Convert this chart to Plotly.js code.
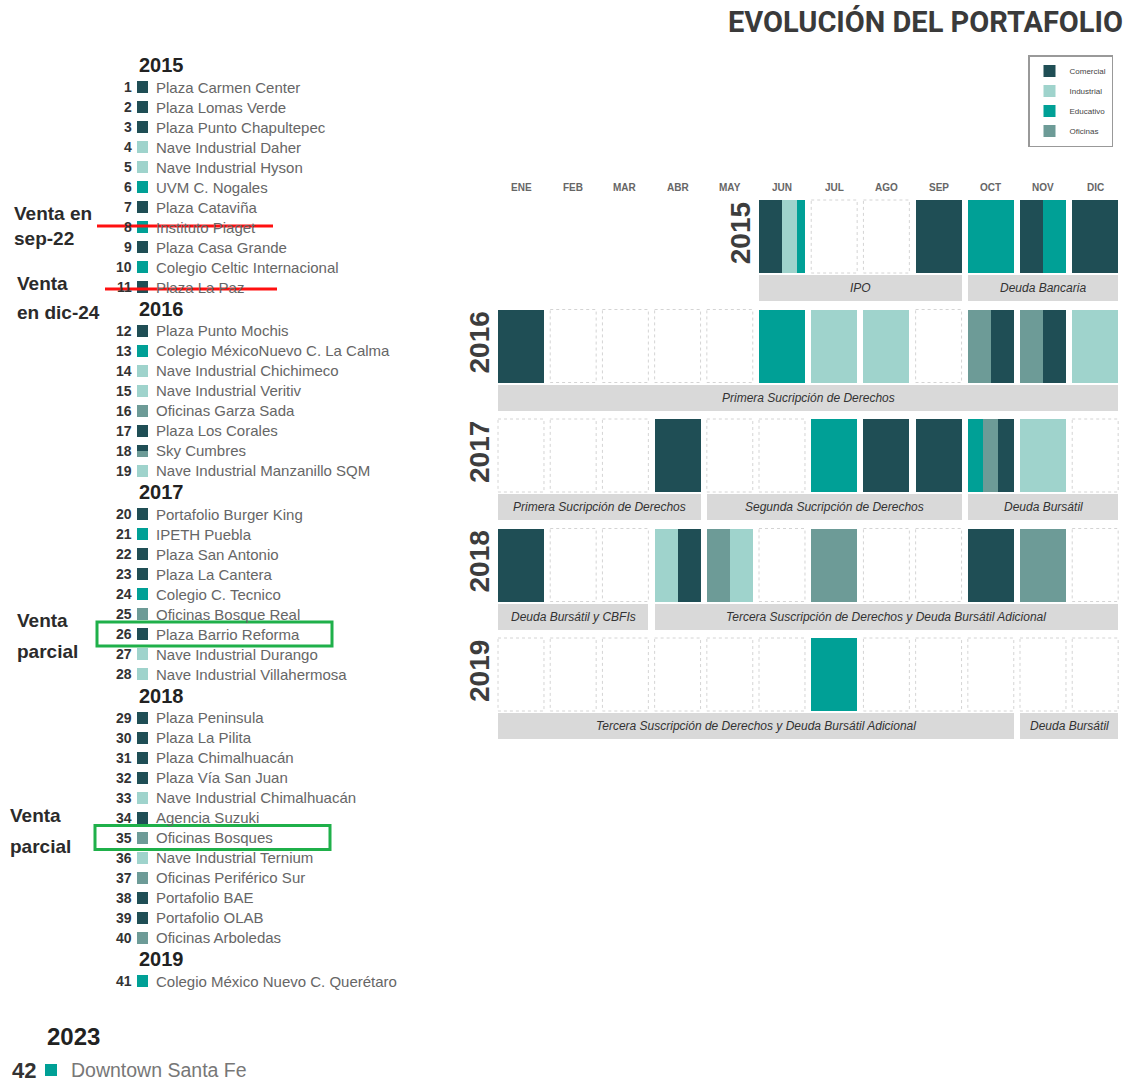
<!DOCTYPE html>
<html><head><meta charset="utf-8">
<script src="https://cdn.plot.ly/plotly-3.0.1.min.js"></script>
<style>html,body{margin:0;padding:0;background:#fff}</style>
</head><body><div id="chart" style="width:1129px;height:1082px"></div>
<script>
// ---------- DATA ----------
const months = ['ENE','FEB','MAR','ABR','MAY','JUN','JUL','AGO','SEP','OCT','NOV','DIC'];
const categories = ['Comercial','Industrial','Educativo','Oficinas'];
const catCodes = ['C','I','E','O'];
const catColors = ['#1f4e55','#9fd3cc','#00a096','#6d9b97'];

const gridYears = ['2015','2016','2017','2018','2019'];
// per month: null = no cell, '' = empty cell, letters = acquisitions by type
const cells2015 = [null,null,null,null,null,'CCCIIE','','','C','E','CE','C'];
const cells2016 = ['C','','','','','E','I','I','','OC','OC','I'];
const cells2017 = ['','','','C','','','E','C','C','EOC','I',''];
const cells2018 = ['C','','','IC','OI','','O','','','C','O',''];
const cells2019 = ['','','','','','','E','','','','',''];

const fundYear  = [0,0,1,2,2,2,3,3,4,4];
const fundStart = [5,9,0,0,4,9,0,3,0,10];
const fundEnd   = [8,11,11,3,8,11,2,11,9,11];
const fundText  = ['IPO','Deuda Bancaria','Primera Sucripción de Derechos',
  'Primera Sucripción de Derechos','Segunda Sucripción de Derechos','Deuda Bursátil',
  'Deuda Bursátil y CBFIs','Tercera Suscripción de Derechos y Deuda Bursátil Adicional',
  'Tercera Suscripción de Derechos y Deuda Bursátil Adicional','Deuda Bursátil'];

const assetNum = [1,2,3,4,5,6,7,8,9,10,11,12,13,14,15,16,17,18,19,20,21,22,23,24,25,26,27,28,29,30,31,32,33,34,35,36,37,38,39,40,41];
const assetYear = ['2015','2015','2015','2015','2015','2015','2015','2015','2015','2015','2015',
  '2016','2016','2016','2016','2016','2016','2016','2016',
  '2017','2017','2017','2017','2017','2017','2017','2017','2017',
  '2018','2018','2018','2018','2018','2018','2018','2018','2018','2018','2018','2018',
  '2019'];
const assetName = ['Plaza Carmen Center','Plaza Lomas Verde','Plaza Punto Chapultepec','Nave Industrial Daher',
  'Nave Industrial Hyson','UVM C. Nogales','Plaza Cataviña','Instituto Piaget','Plaza Casa Grande',
  'Colegio Celtic Internacional','Plaza La Paz',
  'Plaza Punto Mochis','Colegio MéxicoNuevo C. La Calma','Nave Industrial Chichimeco','Nave Industrial Veritiv',
  'Oficinas Garza Sada','Plaza Los Corales','Sky Cumbres','Nave Industrial Manzanillo SQM',
  'Portafolio Burger King','IPETH Puebla','Plaza San Antonio','Plaza La Cantera','Colegio C. Tecnico',
  'Oficinas Bosque Real','Plaza Barrio Reforma','Nave Industrial Durango','Nave Industrial Villahermosa',
  'Plaza Peninsula','Plaza La Pilita','Plaza Chimalhuacán','Plaza Vía San Juan','Nave Industrial Chimalhuacán',
  'Agencia Suzuki','Oficinas Bosques','Nave Industrial Ternium','Oficinas Periférico Sur','Portafolio BAE',
  'Portafolio OLAB','Oficinas Arboledas',
  'Colegio México Nuevo C. Querétaro'];
const assetType = ['C','C','C','I','I','E','C','E','C','E','C',
  'C','E','I','I','O','C','CO','I',
  'C','E','C','C','E','O','C','I','I',
  'C','C','C','C','I','C','O','I','O','C','C','O',
  'E'];
const soldAssets = [8, 11];
const soldNotes = [['Venta en','sep-22'],['Venta','en dic-24']];
const partialAssets = [26, 35];
const partialNotes = [['Venta','parcial'],['Venta','parcial']];

const extraYear = '2023';
const extraNum = 42;
const extraName = 'Downtown Santa Fe';
const extraType = 'E';

const titleText = 'EVOLUCIÓN DEL PORTAFOLIO';

// ---------- LAYOUT CONSTANTS ----------
const W = 1129, H = 1082;
const GRID_TOP = 200, ROW_PITCH = 109.5, CELL_H = 73, FUND_GAP = 2, FUND_H = 26, CELL_W = 0.88;
const M0 = 521, MP = 52.2; // pixel centre of ENE, month pitch
const xDom = [(M0 - 0.5*MP)/W, (M0 + 11.5*MP)/W];
const allCells = [cells2015, cells2016, cells2017, cells2018, cells2019];

const traces = [];
const annotations = [];
const shapes = [];

// grid cells per category
catCodes.forEach((code, k) => {
  const xs = [], ws = [], bs = [], ys = [];
  allCells.forEach((row, r) => {
    const top = GRID_TOP + r*ROW_PITCH;
    row.forEach((s, m) => {
      if (!s) return;
      const n = s.length;
      for (let j = 0; j < n; j++) {
        if (s[j] !== code) continue;
        xs.push(m - CELL_W/2 + (j + 0.5)*CELL_W/n);
        ws.push(CELL_W/n); bs.push(top); ys.push(CELL_H);
      }
    });
  });
  traces.push({type:'bar', x:xs, y:ys, base:bs, width:ws, name:categories[k],
    marker:{color:catColors[k], line:{width:0}}, xaxis:'x', yaxis:'y',
    hoverinfo:'skip', legendgroup:'g'+k, showlegend:true});
});

// empty cells (dotted outlines)
const ex = [], ey = [];
allCells.forEach((row, r) => {
  const top = GRID_TOP + r*ROW_PITCH;
  row.forEach((s, m) => {
    if (s !== '') return;
    const x0 = m - CELL_W/2, x1 = m + CELL_W/2, y0 = top, y1 = top + CELL_H;
    ex.push(x0, x1, x1, x0, x0, null);
    ey.push(y0, y0, y1, y1, y0, null);
  });
});
traces.push({type:'scatter', mode:'lines', x:ex, y:ey, xaxis:'x', yaxis:'y',
  line:{color:'#d4d4d4', width:1, dash:'dot'}, hoverinfo:'skip', showlegend:false});

// funding bars
const fx = [], fw = [], fb = [], fy = [];
fundText.forEach((t, i) => {
  const top = GRID_TOP + fundYear[i]*ROW_PITCH + CELL_H + FUND_GAP;
  const cx = (fundStart[i] + fundEnd[i]) / 2;
  fx.push(cx); fw.push(fundEnd[i] - fundStart[i] + CELL_W); fb.push(top); fy.push(FUND_H);
  annotations.push({xref:'x', yref:'y', x:cx, y:top + FUND_H/2, text:'<i>'+t+'</i>',
    showarrow:false, font:{family:'Liberation Sans, Arial', size:12, color:'#333'}});
});
traces.push({type:'bar', x:fx, y:fy, base:fb, width:fw, xaxis:'x', yaxis:'y',
  marker:{color:'#d9d9d9', line:{width:0}}, hoverinfo:'skip', showlegend:false});

// month headers
months.forEach((mn, m) => annotations.push({xref:'x', yref:'y', x:m, y:187, text:'<b>'+mn+'</b>',
  showarrow:false, font:{family:'Liberation Sans, Arial', size:10, color:'#666'}}));

// year labels (rotated): 2015 sits beside its first cell, others left of the grid
gridYears.forEach((yr, r) => {
  const top = GRID_TOP + r*ROW_PITCH;
  const lx = r === 0 ? M0 + 4.2*MP : 479;
  annotations.push({xref:'x2', yref:'y', x:lx, y: top + 33, text:'<b>'+yr+'</b>',
    textangle:-90, showarrow:false, font:{family:'Liberation Sans, Arial', size:28, color:'#3d3d3d'}});
});

// ---------- LEFT LIST ----------
const sqX = [[],[],[],[]], sqW = [[],[],[],[]], sqB = [[],[],[],[]], sqY = [[],[],[],[]];
function addSquare(type, cx, cy, w, h) {
  const n = type.length;
  for (let j = 0; j < n; j++) {
    const k = catCodes.indexOf(type[j]);
    sqX[k].push(cx); sqW[k].push(w); sqB[k].push(cy - h/2 + j*h/n); sqY[k].push(h/n);
  }
}
const itemY = {};
let yy = 65, prevYear = null;
assetNum.forEach((num, i) => {
  if (assetYear[i] !== prevYear) {
    if (prevYear !== null) yy += 21.5;
    annotations.push({xref:'x2', yref:'y', x:137, y:yy, xanchor:'left', text:'<b>'+assetYear[i]+'</b>',
      showarrow:false, font:{family:'Liberation Sans, Arial', size:20, color:'#222'}});
    yy += 22;
    prevYear = assetYear[i];
  } else {
    yy += 20;
  }
  itemY[num] = yy;
  annotations.push({xref:'x2', yref:'y', x:134, y:yy, xanchor:'right', text:'<b>'+num+'</b>',
    showarrow:false, font:{family:'Liberation Sans, Arial', size:14, color:'#333'}});
  annotations.push({xref:'x2', yref:'y', x:154, y:yy, xanchor:'left', text:assetName[i],
    showarrow:false, font:{family:'Liberation Sans, Arial', size:15, color:'#666'}});
  addSquare(assetType[i], 142.5, yy, 11, 12);
});

// 2023 block
annotations.push({xref:'x2', yref:'y', x:45, y:1036, xanchor:'left', text:'<b>'+extraYear+'</b>',
  showarrow:false, font:{family:'Liberation Sans, Arial', size:24, color:'#222'}});
annotations.push({xref:'x2', yref:'y', x:38, y:1070, xanchor:'right', text:'<b>'+extraNum+'</b>',
  showarrow:false, font:{family:'Liberation Sans, Arial', size:22, color:'#333'}});
annotations.push({xref:'x2', yref:'y', x:69, y:1070, xanchor:'left', text:extraName,
  showarrow:false, font:{family:'Liberation Sans, Arial', size:19.5, color:'#777'}});
addSquare(extraType, 51, 1070, 12, 12);

catCodes.forEach((code, k) => {
  traces.push({type:'bar', x:sqX[k], y:sqY[k], base:sqB[k], width:sqW[k], xaxis:'x2', yaxis:'y',
    marker:{color:catColors[k], line:{width:0}}, hoverinfo:'skip', showlegend:false});
});

// sold: red strike lines + notes
const soldX = [[97,273],[105,277]];
const soldDy = [-1, 2];
soldAssets.forEach((num, i) => {
  const y = itemY[num] + soldDy[i];
  shapes.push({type:'line', xref:'x2', yref:'y', x0:soldX[i][0], x1:soldX[i][1], y0:y, y1:y,
    line:{color:'#ff1010', width:3}});
});
const soldNoteX = [12, 15];
const soldNoteY = [[213,238],[283,312]];
soldNotes.forEach((lines, i) => lines.forEach((t, j) => annotations.push({xref:'x2', yref:'y',
  x:soldNoteX[i], y:soldNoteY[i][j], xanchor:'left', text:'<b>'+t+'</b>', showarrow:false,
  font:{family:'Liberation Sans, Arial', size:19, color:'#2b2b2b'}})));

// partial sales: green boxes + notes
const partX = [[97,332],[95,330]];
partialAssets.forEach((num, i) => {
  const y = itemY[num];
  shapes.push({type:'rect', xref:'x2', yref:'y', x0:partX[i][0], x1:partX[i][1], y0:y - 12, y1:y + 12,
    line:{color:'#1fb04a', width:3}, fillcolor:'rgba(0,0,0,0)'});
});
const partNoteX = [15, 8];
const partNoteY = [[620,651],[815,846]];
partialNotes.forEach((lines, i) => lines.forEach((t, j) => annotations.push({xref:'x2', yref:'y',
  x:partNoteX[i], y:partNoteY[i][j], xanchor:'left', text:'<b>'+t+'</b>', showarrow:false,
  font:{family:'Liberation Sans, Arial', size:19, color:'#2b2b2b'}})));

// title
annotations.push({xref:'x2', yref:'y', x:1125, y:22, xanchor:'right', text:'<b>'+titleText+'</b>',
  showarrow:false, font:{family:'Roboto, Liberation Sans, Arial', size:29, color:'#3a3a3a'}});

const layout = {
  width:W, height:H, margin:{l:0, r:0, t:0, b:0}, paper_bgcolor:'#fff', plot_bgcolor:'rgba(0,0,0,0)',
  barmode:'overlay', bargap:0,
  xaxis:{domain:xDom, range:[-0.5, 11.5], visible:false, fixedrange:true, anchor:'y'},
  xaxis2:{domain:[0,1], range:[0, W], visible:false, anchor:'y', fixedrange:true},
  yaxis:{domain:[0,1], range:[H, 0], visible:false, fixedrange:true},
  showlegend:true,
  legend:{x:1028/W, y:1 - 55/H, xanchor:'left', yanchor:'top', bgcolor:'#fff', bordercolor:'#999',
    borderwidth:1.5, font:{family:'Liberation Sans, Arial', size:8, color:'#444'}, tracegroupgap:1,
    itemclick:false, itemdoubleclick:false},
  annotations:annotations, shapes:shapes
};
Plotly.newPlot('chart', traces, layout, {displayModeBar:false, staticPlot:true});
</script></body></html>
